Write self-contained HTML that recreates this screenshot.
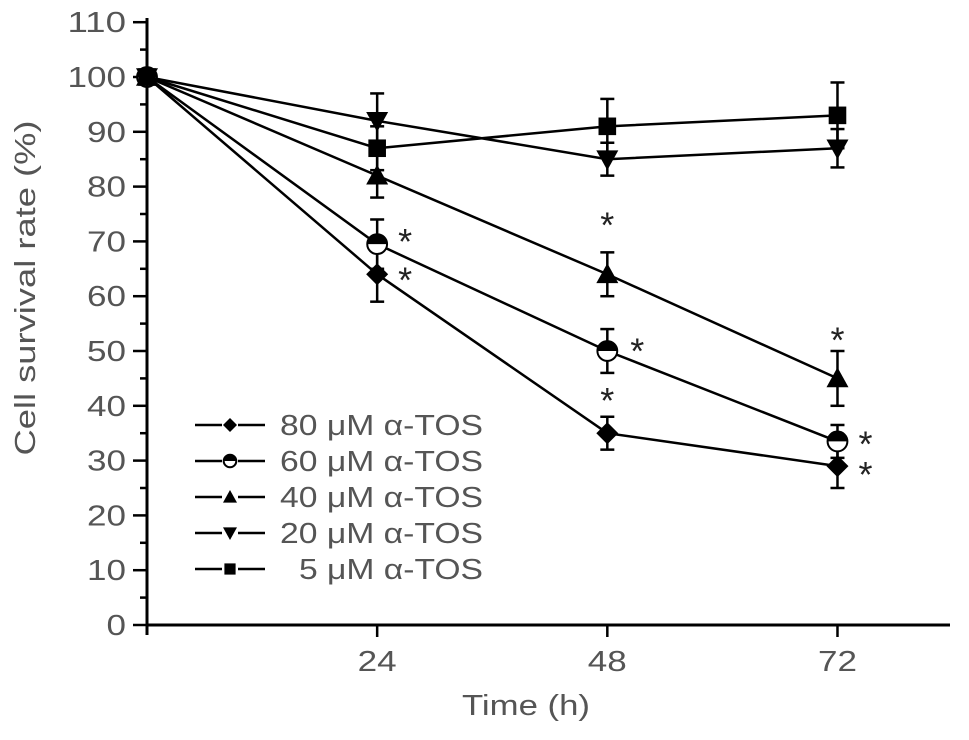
<!DOCTYPE html>
<html><head><meta charset="utf-8"><style>
body{margin:0;background:#fff;width:969px;height:735px;overflow:hidden}
svg text{font-family:"Liberation Sans",sans-serif;fill:#555}
</style></head><body>
<svg id="chart" width="969" height="735"></svg>
<script>
const times=[0,24,48,72];
const seriesNames=["80 μM α-TOS","60 μM α-TOS","40 μM α-TOS","20 μM α-TOS","5 μM α-TOS"];
const v80=[100,64,35,29];
const v60=[100,69.5,50,33.5];
const v40=[100,82,64,45];
const v20=[100,92,85,87];
const v5=[100,87,91,93];
const e80=[0,5,3,4];
const e60=[0,4.5,4,3];
const e40=[0,4,4,5];
const e20=[0,5,3,3.5];
const e5=[0,4,5,6];
const yTicks=[0,10,20,30,40,50,60,70,80,90,100,110];
const xTicks=[24,48,72];
const markers=["diamond","half","up","down","square"];
const NS="http://www.w3.org/2000/svg";
const svg=document.getElementById('chart');
const X=t=>147+t*9.59;
const Y=v=>625-v*5.48;
function el(tag,attrs,parent){const e=document.createElementNS(NS,tag);for(const k in attrs)e.setAttribute(k,attrs[k]);(parent||svg).appendChild(e);return e;}
const ax=el('line',{x1:147,y1:18,x2:147,y2:635,stroke:'#000','stroke-width':3});


const bx=el('line',{x1:146,y1:625,x2:950,y2:625,stroke:'#000','stroke-width':3});


for(let v=0;v<=110;v+=5){el('line',{x1:v%10==0?133:140,y1:Y(v),x2:147,y2:Y(v),stroke:'#000','stroke-width':2.5});}
yTicks.forEach(v=>{const s=String(v);const t=el('text',{x:126,y:Y(v)+10,'text-anchor':'end','font-size':29,textLength:s.length*19.5,lengthAdjust:'spacingAndGlyphs'});t.textContent=s;

});
xTicks.forEach(v=>{el('line',{x1:X(v),y1:625,x2:X(v),y2:637,stroke:'#000','stroke-width':2.5});
const t=el('text',{x:X(v),y:671,'text-anchor':'middle','font-size':29,textLength:39,lengthAdjust:'spacingAndGlyphs'});t.textContent=v;

});
const xt=el('text',{x:526,y:715,'text-anchor':'middle','font-size':29,textLength:128,lengthAdjust:'spacingAndGlyphs'});xt.textContent='Time (h)';


const yt=el('text',{x:0,y:0,'text-anchor':'middle','font-size':29,textLength:335,lengthAdjust:'spacingAndGlyphs',transform:`translate(35,288) rotate(-90)`});yt.textContent='Cell survival rate (%)';


function marker(kind,x,y,s,g){
 if(kind=="diamond")el('polygon',{points:`${x},${y-s} ${x+s},${y} ${x},${y+s} ${x-s},${y}`,fill:'#000'},g);
 else if(kind=="square")el('rect',{x:x-s*0.8,y:y-s*0.8,width:s*1.6,height:s*1.6,fill:'#000'},g);
 else if(kind=="up")el('polygon',{points:`${x},${y-s} ${x+s},${y+s*0.8} ${x-s},${y+s*0.8}`,fill:'#000'},g);
 else if(kind=="down")el('polygon',{points:`${x},${y+s} ${x+s},${y-s*0.8} ${x-s},${y-s*0.8}`,fill:'#000'},g);
 else{el('circle',{cx:x,cy:y,r:s*0.9,fill:'#fff',stroke:'#000','stroke-width':2},g);
  el('path',{d:`M${x-s*0.9},${y} A${s*0.9},${s*0.9} 0 0 1 ${x+s*0.9},${y} Z`,fill:'#000'},g);}
}
const vals=[v80,v60,v40,v20,v5],errs=[e80,e60,e40,e20,e5];
vals.forEach((vs,i)=>{
 const g=el('g',{});
 
 
 el('polyline',{points:vs.map((v,j)=>X(times[j])+','+Y(v)).join(' '),fill:'none',stroke:'#000','stroke-width':2.5},g);
 vs.forEach((v,j)=>{const e=errs[i][j];const x=X(times[j]);
  if(e>0){el('line',{x1:x,y1:Y(v+e),x2:x,y2:Y(v-e),stroke:'#000','stroke-width':2.5},g);
   [v+e,v-e].forEach(c=>el('line',{x1:x-7,y1:Y(c),x2:x+7,y2:Y(c),stroke:'#000','stroke-width':2.5},g));}
  marker(markers[i],x,Y(v),11,g);});
});
const stars=[[24,71,28,0],[24,64,28,0],[48,74,0,0],[48,51,30,0],[48,42,0,0],[72,53,0,0],[72,34,28,0],[72,28.5,28,0]];
stars.forEach(s=>{const t=el('text',{x:X(s[0])+s[2],y:Y(s[1])+18,'text-anchor':'middle','font-size':36,style:'fill:#222'});t.textContent='*';

});
seriesNames.forEach((n,i)=>{const y=425+i*36;const g=el('g',{});
 
 
 el('line',{x1:195,y1:y,x2:265,y2:y,stroke:'#000','stroke-width':2.5},g);
 el('rect',{x:222,y:y-8,width:16,height:16,fill:'#fff'},g);
 marker(markers[i],230,y,7,g);
 const w=i==4?184:203;
 const t=el('text',{x:483,y:y+10,'text-anchor':'end','font-size':29,textLength:w,lengthAdjust:'spacingAndGlyphs'},g);t.textContent=n;});
</script>
</body></html>
